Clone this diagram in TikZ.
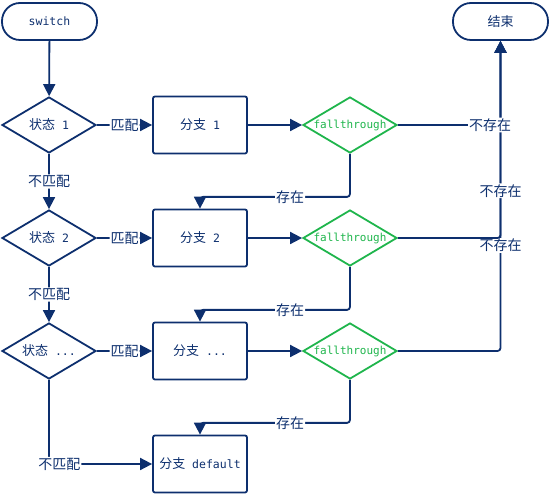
\documentclass[tikz,border=0pt]{standalone}
\usepackage{fontspec}
\setmonofont{DejaVu Sans Mono}
\newfontfamily\cjk{Noto Sans CJK SC}
\usetikzlibrary{shapes.geometric,arrows.meta}
\definecolor{navy}{HTML}{0D2F6E}
\definecolor{grn}{HTML}{1FB54C}
\newcommand{\zh}[1]{{\fontsize{13}{14}\cjk #1}}
\tikzset{
  pill/.style={draw=navy, line width=1.8pt, text=navy, rounded corners=18pt, minimum width=95pt, minimum height=37pt, font=\fontsize{11.5}{13}\ttfamily},
  cond/.style={draw=navy, line width=1.8pt, text=navy, diamond, aspect=1.68, inner sep=0pt, minimum width=94pt, minimum height=56pt, font=\fontsize{11.5}{13}\ttfamily},
  ftd/.style={draw=grn, line width=1.8pt, text=grn, diamond, aspect=1.68, inner sep=0pt, minimum width=94pt, minimum height=56pt, font=\fontsize{11}{13}\ttfamily},
  branch/.style={draw=navy, line width=1.8pt, text=navy, rectangle, rounded corners=2pt, minimum width=94pt, minimum height=57pt, font=\fontsize{11.5}{13}\ttfamily},
  conn/.style={draw=navy, line width=1.8pt, rounded corners=3pt},
  arr/.style={conn, -{Triangle[length=12pt,width=12pt]}},
  lbl/.style={fill=white, inner sep=1pt, text=navy, font=\fontsize{14}{15}\cjk},
}
\begin{document}
\begin{tikzpicture}[x=1pt,y=-1pt]
\useasboundingbox (0,0) rectangle (550,494);
\node[pill] (sw) at (49.5,21.5) {switch};
\node[pill] (end) at (500.5,21.5) {\zh{结束}};

\node[cond] (d1) at (49,125) {\zh{状态} 1};
\node[cond] (d2) at (49,238) {\zh{状态} 2};
\node[cond] (d3) at (49,351) {\zh{状态} ...};

\node[branch] (b1) at (200,125) {\zh{分支} 1};
\node[branch] (b2) at (200,238) {\zh{分支} 2};
\node[branch] (b3) at (200,351) {\zh{分支} ...};
\node[branch] (bd) at (200,464) {\zh{分支} default};

\node[ftd] (f1) at (350,125) {fallthrough};
\node[ftd] (f2) at (350,238) {fallthrough};
\node[ftd] (f3) at (350,351) {fallthrough};

\draw[arr] (sw) -- (d1);
\draw[arr] (d1) -- node[lbl]{不匹配} (d2);
\draw[arr] (d2) -- node[lbl]{不匹配} (d3);
\draw[arr] (d3.south) |- node[lbl,pos=0.55]{不匹配} (bd.west);

\draw[arr] (d1.east) -- node[lbl,pos=0.5]{匹配} (b1.west);
\draw[arr] (d2.east) -- node[lbl,pos=0.5]{匹配} (b2.west);
\draw[arr] (d3.east) -- node[lbl,pos=0.5]{匹配} (b3.west);

\draw[arr] (b1.east) -- (f1.west);
\draw[arr] (b2.east) -- (f2.west);
\draw[arr] (b3.east) -- (f3.west);

\draw[arr] (f1.south) -- ++(0,43) -| node[lbl,pos=0.2]{存在} (b2.north);
\draw[arr] (f2.south) -- ++(0,43) -| node[lbl,pos=0.2]{存在} (b3.north);
\draw[arr] (f3.south) -- ++(0,43) -| node[lbl,pos=0.2]{存在} (bd.north);

\draw[arr] (f3.east) -| node[lbl,pos=0.67]{不存在} (end.south);
\draw[arr] (f2.east) -| node[lbl,pos=0.62]{不存在} (end.south);
\draw[arr] (f1.east) -| node[lbl,pos=0.45]{不存在} (end.south);
\end{tikzpicture}
\end{document}
